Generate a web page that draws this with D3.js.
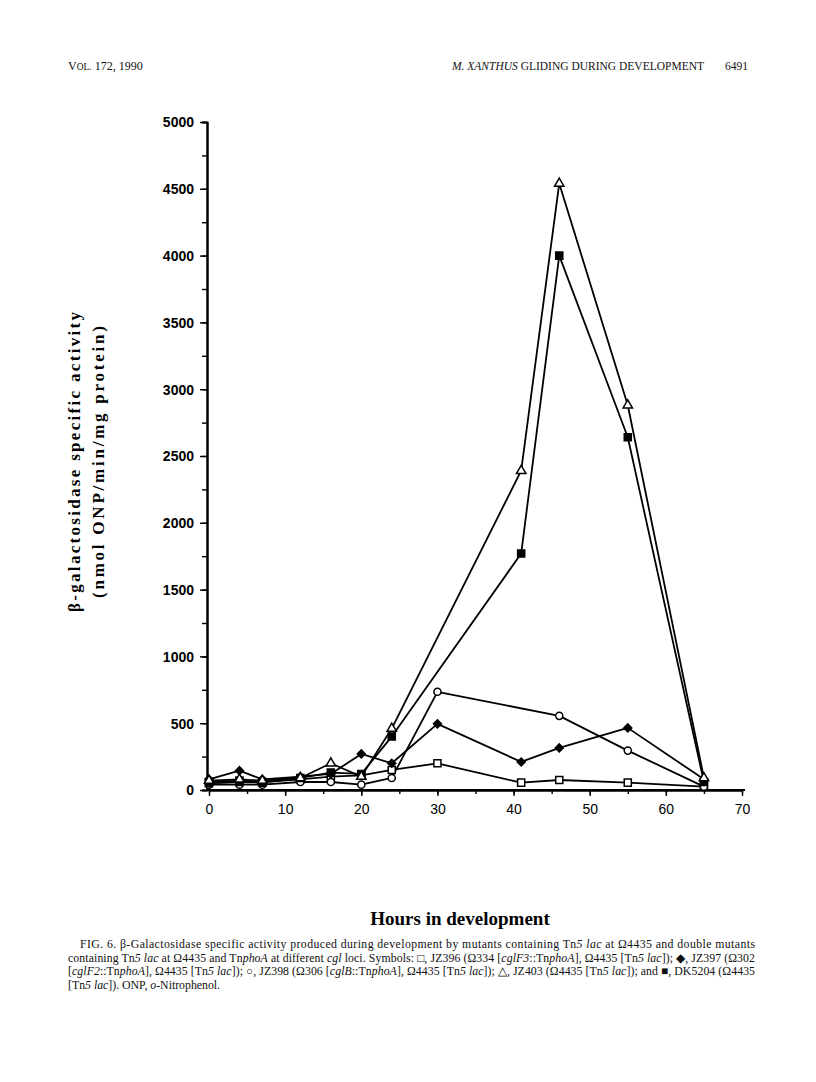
<!DOCTYPE html>
<html>
<head>
<meta charset="utf-8">
<script src="https://cdn.jsdelivr.net/npm/d3@7"></script>
<style>
  html, body { margin: 0; padding: 0; background: #fff; }
  svg { display: block; }
</style>
</head>
<body>
<svg id="chart" width="816" height="1082"></svg>
<script>
// ---------- DATA ----------
const hoursTri = [0, 4, 7, 12, 16, 20, 24, 41, 46, 55, 65];
const jz403 = [70, 80, 70, 90, 200, 100, 460, 2390, 4540, 2880, 90];      // open triangle
const dk5204 = [50, 60, 55, 90, 130, 120, 400, 1770, 4000, 2640, 60];     // filled square
const hoursDiamond = [0, 4, 7, 12, 16, 20, 24, 30, 41, 46, 55, 65];
const jz397 = [80, 145, 80, 100, 120, 270, 200, 495, 210, 315, 465, 80];  // filled diamond
const hoursCircle = [0, 4, 7, 12, 16, 20, 24, 30, 46, 55, 65];
const jz398 = [40, 40, 40, 60, 60, 40, 90, 735, 555, 295, 25];            // open circle
const hoursSquare = [0, 4, 7, 12, 16, 20, 24, 30, 41, 46, 55, 65];
const jz396 = [60, 70, 60, 80, 100, 110, 150, 200, 55, 75, 55, 25];       // open square

const yMajorTicks = [0, 500, 1000, 1500, 2000, 2500, 3000, 3500, 4000, 4500, 5000];
const xMajorTicks = [0, 10, 20, 30, 40, 50, 60, 70];

const series = [
  { name: "JZ396", hours: hoursSquare, values: jz396, symbol: "square", filled: false },
  { name: "JZ397", hours: hoursDiamond, values: jz397, symbol: "diamond", filled: true },
  { name: "JZ398", hours: hoursCircle, values: jz398, symbol: "circle", filled: false },
  { name: "DK5204", hours: hoursTri, values: dk5204, symbol: "square", filled: true },
  { name: "JZ403", hours: hoursTri, values: jz403, symbol: "triangle", filled: false }
];

// ---------- LAYOUT ----------
const svg = d3.select("#chart");
const x = d3.scaleLinear().domain([0, 70]).range([209, 742]);
const y = d3.scaleLinear().domain([0, 5000]).range([790, 122]);
const serif = "'Liberation Serif', 'Times New Roman', serif";
const sans = "'Liberation Sans', Arial, sans-serif";

// ---------- HEADER ----------
const hdr = svg.append("text").attr("x", 68).attr("y", 70)
  .attr("font-family", serif).attr("font-size", 12).attr("fill", "#111");
hdr.append("tspan").text("V");
hdr.append("tspan").attr("font-size", 9.5).text("OL.");
hdr.append("tspan").text(" 172, 1990");

const hdr2 = svg.append("text").attr("x", 704).attr("y", 70).attr("text-anchor", "end")
  .attr("font-family", serif).attr("font-size", 11.5).attr("fill", "#111");
hdr2.append("tspan").attr("font-style", "italic").text("M. XANTHUS");
hdr2.append("tspan").text(" GLIDING DURING DEVELOPMENT");
svg.append("text").attr("x", 748).attr("y", 70).attr("text-anchor", "end")
  .attr("font-family", serif).attr("font-size", 11.5).attr("fill", "#111").text("6491");

// ---------- AXES ----------
const axisStroke = 2;
const gY = svg.append("g").attr("transform", `translate(${x(0) - 2},0)`);
gY.call(d3.axisLeft(y).tickValues(d3.range(0, 5001, 250)).tickSize(5).tickFormat(""));
gY.call(g => g.append("g").call(d3.axisLeft(y).tickValues(yMajorTicks).tickSize(7)
  .tickSizeOuter(0).tickFormat(d3.format("d"))));
gY.selectAll("path.domain").attr("stroke-width", axisStroke).attr("stroke", "#000");
gY.selectAll(".tick line").attr("stroke-width", 1.4).attr("stroke", "#000");
gY.selectAll(".tick text").attr("font-family", sans).attr("font-size", 14)
  .attr("font-weight", "bold").attr("fill", "#000").attr("x", -13).attr("dy", "0.35em");

const gX = svg.append("g").attr("transform", `translate(0,${y(0)})`);
gX.call(d3.axisBottom(x).tickValues(d3.range(0, 71, 5)).tickSize(4).tickSizeOuter(0).tickFormat(""));
gX.call(g => g.append("g").call(d3.axisBottom(x).tickValues(xMajorTicks).tickSize(6)
  .tickSizeOuter(0).tickFormat(d3.format("d"))));
gX.selectAll("path.domain").attr("stroke-width", axisStroke).attr("stroke", "#000");
gX.selectAll(".tick line").attr("stroke-width", 1.4).attr("stroke", "#000");
gX.selectAll(".tick text").attr("font-family", sans).attr("font-size", 14)
  .attr("fill", "#000").attr("y", 14);
svg.append("line").attr("x1", x(0) - 3).attr("x2", x(70) + 3).attr("y1", y(0)).attr("y2", y(0))
  .attr("stroke", "#000").attr("stroke-width", axisStroke);

// ---------- AXIS TITLES ----------
svg.append("text")
  .attr("transform", "translate(80,462) rotate(-90)")
  .attr("text-anchor", "middle")
  .attr("font-family", serif).attr("font-size", 17).attr("font-weight", "bold")
  .attr("textLength", 300).attr("lengthAdjust", "spacing")
  .text("β-galactosidase  specific  activity");
svg.append("text")
  .attr("transform", "translate(104,462) rotate(-90)")
  .attr("text-anchor", "middle")
  .attr("font-family", serif).attr("font-size", 17).attr("font-weight", "bold")
  .attr("textLength", 272).attr("lengthAdjust", "spacing")
  .text("(nmol  ONP/min/mg  protein)");

svg.append("text").attr("x", 460).attr("y", 925).attr("text-anchor", "middle")
  .attr("font-family", serif).attr("font-size", 19).attr("font-weight", "bold")
  .text("Hours in development");

// ---------- SERIES ----------
const line = d3.line().x(d => x(d[0])).y(d => y(d[1]));
series.forEach(s => {
  const pts = s.hours.map((h, i) => [h, s.values[i]]);
  svg.append("path").datum(pts).attr("d", line)
    .attr("fill", "none").attr("stroke", "#000").attr("stroke-width", 1.8)
    .attr("stroke-linejoin", "round");
});
const symMap = {
  square: d3.symbolSquare, diamond: d3.symbolSquare,
  circle: d3.symbolCircle, triangle: d3.symbolTriangle
};
const symSize = { square: 50, diamond: 32, circle: 40, triangle: 38 };
series.forEach(s => {
  const pts = s.hours.map((h, i) => [h, s.values[i]]);
  const rot = s.symbol === "diamond" ? " rotate(45)" : "";
  svg.append("g").selectAll("path").data(pts).join("path")
    .attr("transform", d => `translate(${x(d[0])},${y(d[1])})${rot}`)
    .attr("d", d3.symbol(symMap[s.symbol], symSize[s.symbol]))
    .attr("fill", s.filled ? "#000" : "#fff")
    .attr("stroke", "#000").attr("stroke-width", 1.5);
});

// ---------- CAPTION ----------
const capLines = [
  { x: 80, len: 675, parts: [["FIG. 6. β-Galactosidase specific activity produced during development by mutants containing Tn"], ["5", "i"], [" "], ["lac", "i"], [" at Ω4435 and double mutants"]] },
  { x: 68, len: 687, parts: [["containing Tn"], ["5", "i"], [" "], ["lac", "i"], [" at Ω4435 and Tn"], ["phoA", "i"], [" at different "], ["cgl", "i"], [" loci. Symbols: □, JZ396 (Ω334 ["], ["cglF3", "i"], ["::Tn"], ["phoA", "i"], ["], Ω4435 [Tn"], ["5", "i"], [" "], ["lac", "i"], ["]); ◆, JZ397 (Ω302"]] },
  { x: 68, len: 687, parts: [["["], ["cglF2", "i"], ["::Tn"], ["phoA", "i"], ["], Ω4435 [Tn"], ["5", "i"], [" "], ["lac", "i"], ["]); ○, JZ398 (Ω306 ["], ["cglB", "i"], ["::Tn"], ["phoA", "i"], ["], Ω4435 [Tn"], ["5", "i"], [" "], ["lac", "i"], ["]); △, JZ403 (Ω4435 [Tn"], ["5", "i"], [" "], ["lac", "i"], ["]); and ■, DK5204 (Ω4435"]] },
  { x: 68, len: null, parts: [["[Tn"], ["5", "i"], [" "], ["lac", "i"], ["]). ONP, "], ["o", "i"], ["-Nitrophenol."]] }
];
capLines.forEach((ln, i) => {
  const t = svg.append("text").attr("x", ln.x).attr("y", 948 + i * 13.6)
    .attr("font-family", serif).attr("font-size", 11.8).attr("fill", "#111")
    .attr("xml:space", "preserve");
  if (ln.len) t.attr("textLength", ln.len).attr("lengthAdjust", "spacing");
  ln.parts.forEach(p => {
    const ts = t.append("tspan").text(p[0]);
    if (p[1] === "i") ts.attr("font-style", "italic");
  });
});
</script>
</body>
</html>
